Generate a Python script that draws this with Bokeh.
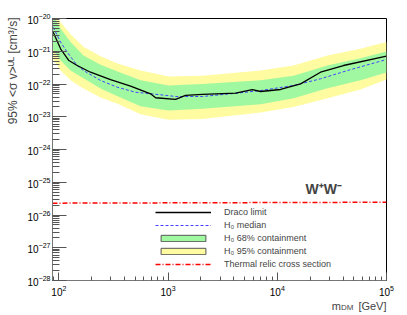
import numpy as np
from bokeh.plotting import figure
from bokeh.models import Range1d, Legend, LegendItem, Label, LogTicker, Title
from bokeh.embed import file_html
from bokeh.resources import INLINE

# ---------------- data ----------------
limit_mass = [88.9, 103.8, 123.6, 147.2, 195, 297, 454, 692, 769, 1172, 1445,
              2056, 4159, 5902, 7031, 10715, 16330, 24890, 40360, 100000]
limit_sv = [3.82e-21, 1.19e-21, 5.2e-22, 3.67e-22, 2.29e-22, 1.37e-22, 8.6e-23,
            5.0e-23, 3.8e-23, 3.4e-23, 4.5e-23, 4.8e-23, 5.3e-23, 6.7e-23,
            5.9e-23, 6.8e-23, 1.01e-22, 2.29e-22, 3.67e-22, 7.1e-22]

median_mass = [88.9, 103.8, 119.4, 147.2, 168.3, 241, 343, 504, 716, 1172,
               2056, 4159, 7031, 14090, 24890, 43950, 100000]
median_sv = [5.4e-21, 1.89e-21, 9.35e-22, 3.67e-22, 2.58e-22, 1.28e-22, 7.98e-23,
             5.6e-23, 5.0e-23, 4.15e-23, 4.15e-23, 5.2e-23, 6.3e-23, 9.0e-23,
             1.44e-22, 2.58e-22, 5.6e-22]

band_mass = [87.5, 104, 128, 168, 241, 345, 560, 1010, 2060, 7030, 14100,
             28800, 57800, 100000]
yellow_hi = [1.75e-20, 7.7e-21, 3.3e-21, 1.38e-21, 7.0e-22, 4.2e-22, 2.6e-22,
             1.7e-22, 1.8e-22, 2.6e-22, 3.7e-22, 7.4e-22, 1.2e-21, 1.9e-21]
green_hi = [1.3e-20, 4.9e-21, 1.9e-21, 7.4e-22, 3.9e-22, 2.4e-22, 1.3e-22,
            9.0e-23, 1.0e-22, 1.3e-22, 1.8e-22, 3.7e-22, 6.1e-22, 9.8e-22]
green_lo = [1.2e-21, 5.2e-22, 2.6e-22, 1.5e-22, 7.3e-23, 4.2e-23, 2.1e-23,
            1.55e-23, 1.75e-23, 2.4e-23, 3.7e-23, 7.4e-23, 1.3e-22, 2.25e-22]
yellow_lo = [6.0e-22, 2.6e-22, 1.3e-22, 7.3e-23, 3.9e-23, 2.5e-23, 1.2e-23,
             8.1e-24, 8.6e-24, 1.35e-23, 2.0e-23, 3.7e-23, 6.8e-23, 1.37e-22]

relic_mass = [87.5, 1000, 10000, 100000]
relic_sv = [2.3e-26, 2.35e-26, 2.4e-26, 2.45e-26]

legend_labels = ["Draco limit", "H\u2080 median", "H\u2080 68% containment",
                 "H\u2080 95% containment", "Thermal relic cross section"]
channel_label = "W\u207aW\u207b"
x_title = "m\u2007\u2007\u2009 [GeV]"
x_title_sub = "DM"
y_title = "95% <\u03c3 v>\u1d41\u1d38 [cm\u00b3/s]"

FONT = "Liberation Sans"
GREEN = "#a0f8a0"
YELLOW = "#fefba0"
NAN = float("nan")

p = figure(frame_width=334, frame_height=262,
           x_axis_type="log", y_axis_type="log",
           x_range=Range1d(87.5, 1e5), y_range=Range1d(1e-28, 1e-20),
           output_backend="svg", toolbar_location=None,
           min_border_left=52, min_border_right=21, min_border_top=18,
           min_border_bottom=35)
p.background_fill_color = "white"
p.border_fill_color = "white"
p.outline_line_color = "black"
p.outline_line_width = 1
p.xgrid.visible = False
p.ygrid.visible = False

# bands
p.varea(x=band_mass, y1=yellow_lo, y2=yellow_hi, fill_color=YELLOW)
p.varea(x=band_mass, y1=green_lo, y2=green_hi, fill_color=GREEN)

r_relic = p.line(relic_mass, relic_sv, line_color="red", line_width=1.5,
                 line_dash="5 2 1 2")
r_med = p.line(median_mass, median_sv, line_color="#4444ff", line_width=1,
               line_dash="3 2")
r_lim = p.line(limit_mass, limit_sv, line_color="black", line_width=1.3)

# legend-only glyphs for the bands (not drawn: NaN extent)
r_g = p.quad(left=[NAN], right=[NAN], top=[NAN], bottom=[NAN], fill_color=GREEN,
             line_color="#555555", line_width=1)
r_y = p.quad(left=[NAN], right=[NAN], top=[NAN], bottom=[NAN], fill_color=YELLOW,
             line_color="#555555", line_width=1)

legend = Legend(items=[LegendItem(label=legend_labels[0], renderers=[r_lim]),
                       LegendItem(label=legend_labels[1], renderers=[r_med]),
                       LegendItem(label=legend_labels[2], renderers=[r_g]),
                       LegendItem(label=legend_labels[3], renderers=[r_y]),
                       LegendItem(label=legend_labels[4], renderers=[r_relic])],
                location=(103, 11), orientation="vertical")
legend.border_line_color = None
legend.background_fill_alpha = 0
legend.padding = 0
legend.margin = 0
legend.glyph_width = 56
legend.glyph_height = 8
legend.label_height = 9
legend.label_standoff = 13
legend.spacing = 3
legend.label_text_font = FONT
legend.label_text_font_size = "9px"
p.add_layout(legend)

# axes
for ax in (p.xaxis, p.yaxis):
    ax.axis_line_color = "#777777"
    ax.major_tick_line_color = "#555555"
    ax.minor_tick_line_color = "#555555"
    ax.major_tick_out = 0
    ax.minor_tick_out = 0
    ax.major_label_text_font = FONT
    ax.major_label_text_font_size = "10px"
    ax.major_label_text_color = "black"

p.yaxis.ticker = LogTicker(desired_num_ticks=10, num_minor_ticks=10)
p.xaxis.ticker = LogTicker(desired_num_ticks=4, num_minor_ticks=10)
p.yaxis.major_tick_in = 14
p.yaxis.minor_tick_in = 7
p.xaxis.major_tick_in = 8
p.xaxis.minor_tick_in = 4
p.yaxis.major_label_standoff = 2
p.xaxis.major_label_standoff = 4

# axis titles, aligned to the axis ends (ROOT style)
p.add_layout(Title(text=y_title, align="right", vertical_align="top",
                   offset=-1, standoff=5, text_font=FONT,
                   text_font_style="normal", text_font_size="12px"), "left")
p.add_layout(Title(text=x_title, align="right", vertical_align="top",
                   offset=0, standoff=2, text_font=FONT,
                   text_font_style="normal", text_font_size="11px"), "below")
p.add_layout(Title(text=x_title_sub, align="right", vertical_align="top",
                   offset=33, standoff=-24, text_font=FONT,
                   text_font_style="normal", text_font_size="8px"), "below")

# channel label
p.add_layout(Label(x=253, y=92, x_units="screen", y_units="screen",
                   text=channel_label, text_font=FONT, text_font_style="bold",
                   text_font_size="14px", text_baseline="alphabetic"))

open("out.html", "w").write(file_html(p, INLINE))
